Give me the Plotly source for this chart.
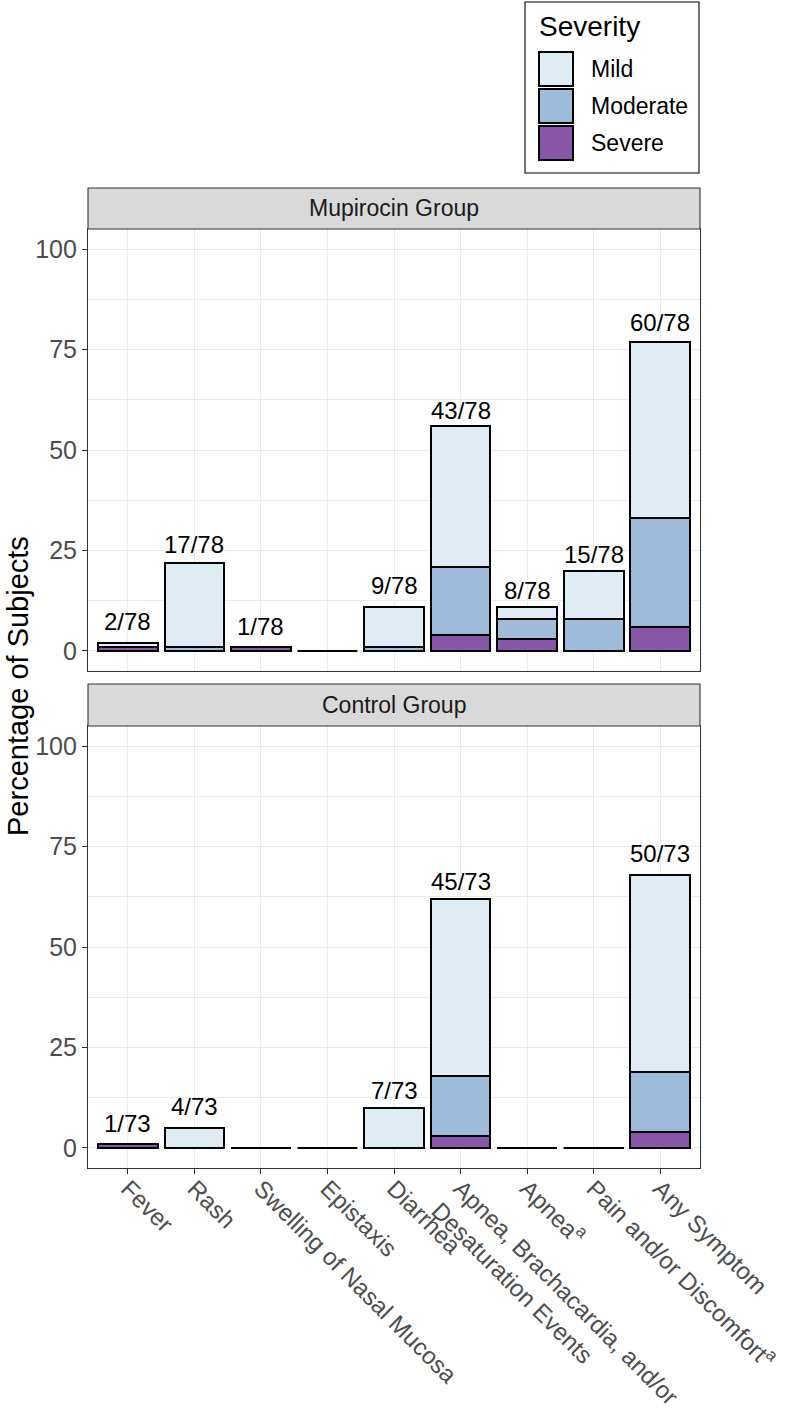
import plotly.graph_objects as go

# ---------------- data ----------------
categories = ["Fever", "Rash", "Swelling of Nasal Mucosa", "Epistaxis", "Diarrhea",
              "Apnea, Brachacardia, and/or<br>Desaturation Events", "Apnea<sup>a</sup>",
              "Pain and/or Discomfort<sup>a</sup>", "Any Symptom"]
groups = ["Mupirocin Group", "Control Group"]
severities = ["Mild", "Moderate", "Severe"]
y_ticks = [0, 25, 50, 75, 100]

# percentage of subjects by severity
mup_severe = [1, 0, 1, 0, 0, 4, 3, 0, 6]
mup_moderate = [0, 1, 0, 0, 1, 17, 5, 8, 27]
mup_mild = [1, 21, 0, 0, 10, 35, 3, 12, 44]
ctl_severe = [1, 0, 0, 0, 0, 3, 0, 0, 4]
ctl_moderate = [0, 0, 0, 0, 0, 15, 0, 0, 15]
ctl_mild = [0, 5, 0, 0, 10, 44, 0, 0, 49]

# subjects with the event / group size
mup_counts = [2, 17, 1, 0, 9, 43, 8, 15, 60]
ctl_counts = [1, 4, 0, 0, 7, 45, 0, 0, 50]
mup_n = 78
ctl_n = 73

colors = {"Mild": "#e0ecf4", "Moderate": "#9ebcda", "Severe": "#8856a7"}

# ---------------- layout helpers ----------------
W, H = 785, 1419
PL, PR, PT, PB = 88, 700, 188, 1168          # plot area in pixels
ML, MT = PL, PT
MR, MB = W - PR, H - PB
PW, PH = PR - PL, PB - PT


def px_x(x):
    return (x - PL) / PW


def px_y(y):
    return (PB - y) / PH


FONT = "Liberation Sans, Arial, sans-serif"
xpos = list(range(1, len(categories) + 1))

fig = go.Figure()

panels = [
    ("x", "y", {"Severe": mup_severe, "Moderate": mup_moderate, "Mild": mup_mild}, mup_counts, mup_n),
    ("x2", "y2", {"Severe": ctl_severe, "Moderate": ctl_moderate, "Mild": ctl_mild}, ctl_counts, ctl_n),
]

annotations = []
for xa, ya, vals, counts, n in panels:
    for sev in ["Severe", "Moderate", "Mild"]:
        fig.add_trace(go.Bar(
            x=xpos, y=vals[sev], width=0.9, name=sev, xaxis=xa, yaxis=ya,
            marker=dict(color=colors[sev], line=dict(color="black", width=2)),
            showlegend=False, hoverinfo="skip"))
    # zero-height bars shown as a flat outline
    zx, zy = [], []
    for i, p in enumerate(xpos):
        tot = vals["Severe"][i] + vals["Moderate"][i] + vals["Mild"][i]
        if tot == 0:
            zx += [p - 0.45, p + 0.45, None]
            zy += [0, 0, None]
    fig.add_trace(go.Scatter(x=zx, y=zy, mode="lines", xaxis=xa, yaxis=ya,
                             line=dict(color="black", width=2),
                             showlegend=False, hoverinfo="skip"))
    for i, p in enumerate(xpos):
        if counts[i] > 0:
            annotations.append(dict(
                x=p, y=100 * counts[i] / n, xref=xa, yref=ya,
                text=f"{counts[i]}/{n}", showarrow=False, yanchor="middle",
                yshift=19, font=dict(family=FONT, size=24, color="black")))

top_dom = [px_y(671), px_y(229)]
bot_dom = [0, px_y(726)]

axis_common = dict(range=[0.4, len(categories) + 0.6], tickvals=xpos,
                   showgrid=True, gridcolor="#ebebeb", gridwidth=1.1,
                   zeroline=False, showline=True, mirror=True,
                   linecolor="#333333", linewidth=1.1)
yaxis_common = dict(range=[-5, 105], tickvals=y_ticks, ticktext=[str(t) for t in y_ticks],
                    showgrid=True, gridcolor="#ebebeb", gridwidth=1.1,
                    minor=dict(tickvals=[12.5, 37.5, 62.5, 87.5], showgrid=True,
                               gridcolor="#ebebeb", gridwidth=0.6, ticks=""),
                    zeroline=False, showline=True, mirror=True,
                    linecolor="#333333", linewidth=1.1,
                    ticks="outside", ticklen=5, tickcolor="#333333", tickwidth=1.1,
                    tickfont=dict(family=FONT, size=25, color="#4d4d4d"))

fig.update_layout(
    xaxis=dict(**axis_common, anchor="y", showticklabels=False, ticks=""),
    yaxis=dict(**yaxis_common, domain=top_dom, anchor="x"),
    xaxis2=dict(**axis_common, anchor="y2", ticktext=categories, tickangle=45,
                ticks="outside", ticklen=5, tickcolor="#333333", tickwidth=1.1,
                ticklabeloverflow="allow", ticklabelstandoff=-9,
                tickfont=dict(family=FONT, size=24, color="#4d4d4d")),
    yaxis2=dict(**yaxis_common, domain=bot_dom, anchor="x2"),
)

# facet strips
shapes = []
for g, (y0, y1) in zip(groups, [(229, 188), (726, 684)]):
    shapes.append(dict(type="rect", xref="paper", yref="paper", x0=0, x1=1,
                       y0=px_y(y0), y1=px_y(y1), fillcolor="#d9d9d9",
                       line=dict(color="#333333", width=1.1), layer="above"))
    annotations.append(dict(text=g, xref="paper", yref="paper", x=0.5,
                            y=(px_y(y0) + px_y(y1)) / 2, showarrow=False,
                            xanchor="center", yanchor="middle",
                            font=dict(family=FONT, size=23, color="#1a1a1a")))

# y-axis title
annotations.append(dict(text="Percentage of Subjects", xref="paper", yref="paper",
                        x=px_x(18), y=px_y(686), textangle=-90, showarrow=False,
                        xanchor="center", yanchor="middle",
                        font=dict(family=FONT, size=29, color="black")))

# legend box (drawn)
shapes.append(dict(type="rect", xref="paper", yref="paper", x0=px_x(525), x1=px_x(699),
                   y0=px_y(173), y1=px_y(2), fillcolor="white",
                   line=dict(color="black", width=1.1)))
annotations.append(dict(text="Severity", xref="paper", yref="paper", x=px_x(537),
                        y=px_y(26), xanchor="left", yanchor="middle", showarrow=False,
                        font=dict(family=FONT, size=28, color="black")))
key_tops = [52, 89, 126]
for sev, kt in zip(severities, key_tops):
    shapes.append(dict(type="rect", xref="paper", yref="paper", x0=px_x(539), x1=px_x(573),
                       y0=px_y(kt + 34), y1=px_y(kt), fillcolor=colors[sev],
                       line=dict(color="black", width=2)))
    annotations.append(dict(text=sev, xref="paper", yref="paper", x=px_x(589),
                            y=px_y(kt + 17), xanchor="left", yanchor="middle",
                            showarrow=False,
                            font=dict(family=FONT, size=23, color="black")))

fig.update_layout(
    width=W, height=H, barmode="stack", bargap=0.1,
    margin=dict(l=ML, r=MR, t=MT, b=MB, autoexpand=False),
    paper_bgcolor="white", plot_bgcolor="white",
    shapes=shapes, annotations=annotations, showlegend=False,
    font=dict(family=FONT),
)

fig.write_html("out.html", config={"displayModeBar": False},
               post_script="document.body.style.margin='0';")
